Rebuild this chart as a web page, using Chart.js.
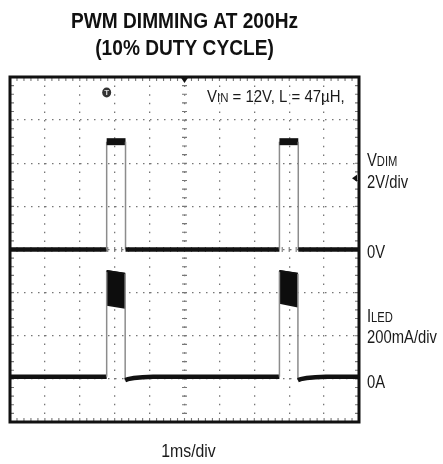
<!DOCTYPE html>
<html><head><meta charset="utf-8">
<script src="https://cdn.jsdelivr.net/npm/chart.js@4.4.0/dist/chart.umd.min.js"></script>
<style>html,body{margin:0;padding:0;background:#fff}#wrap{width:443px;height:464px;position:relative}</style>
</head><body><div id="wrap"><canvas id="c" width="443" height="464"></canvas></div>
<script>
// ---- text ----
const titleLines = ['PWM DIMMING AT 200Hz', '(10% DUTY CYCLE)'];
const xAxisLabel = '1ms/div';
// ---- VDIM channel: time (ms), volts ----
const vdimTime  = [0, 2.77, 2.77, 3.31, 3.31, 7.72, 7.72, 8.26, 8.26, 10];
const vdimVolts = [0, 0,    5.0,  5.0,  0,    0,    5.0,  5.0,  0,    0];
// ---- ILED channel: time (ms), mA ----
const iledTime = [0, 2.77, 2.77, 3.30, 3.30, 3.38, 3.55, 3.80, 4.10, 7.72, 7.72, 8.25, 8.25, 8.33, 8.50, 8.75, 9.05, 10];
const iledMilliamps = [0, 0, 490, 478, -16, -11, -6, -2, 0, 0, 490, 478, -16, -11, -6, -2, 0, 0];
// ---- ILED ripple envelope during the on-time ----
const ripple1Time = [2.77, 3.30];
const ripple1Upper = [492, 478];
const ripple1Lower = [334, 320];
const ripple2Time = [7.72, 8.25];
const ripple2Upper = [492, 478];
const ripple2Lower = [343, 325];

const F = '"Liberation Sans", Arial, sans-serif';
const pts = (xs, ys) => xs.map((x, i) => ({x, y: ys[i]}));
const isEdge = c => c.p0.parsed.x === c.p1.parsed.x;

// draws condensed text (horizontal scale k); parts: [text, isSubscript]
function condText(ctx, x, y, parts, size, k, align, weight) {
  weight = weight || 'normal';
  const fontFor = sub => weight + ' ' + (sub ? Math.round(size * 0.74) : size) + 'px ' + F;
  let w = 0;
  for (const [t, sub] of parts) { ctx.font = fontFor(sub); w += ctx.measureText(t).width; }
  ctx.save();
  ctx.translate(align === 'center' ? x - w * k / 2 : x, y);
  ctx.scale(k, 1);
  ctx.textAlign = 'left'; ctx.textBaseline = 'alphabetic';
  let cx = 0;
  for (const [t, sub] of parts) {
    ctx.font = fontFor(sub);
    ctx.fillText(t, cx, 0);
    cx += ctx.measureText(t).width;
  }
  ctx.restore();
}

const scopeDecor = {
  id: 'scopeDecor',
  beforeDatasetsDraw(chart) {
    const {ctx, chartArea: a, scales} = chart;
    const xs = scales.x, ys = scales.y;
    const cx = xs.getPixelForValue(5), cy = ys.getPixelForValue(0);
    ctx.save();
    ctx.strokeStyle = '#777'; ctx.lineWidth = 1.1;
    ctx.beginPath();
    for (let i = 1; i < 50; i++) {
      const px = xs.getPixelForValue(i * 0.2);
      ctx.moveTo(px, a.top); ctx.lineTo(px, a.top + 4);
      ctx.moveTo(px, a.bottom); ctx.lineTo(px, a.bottom - 4);
      ctx.moveTo(px, cy - 2.5); ctx.lineTo(px, cy + 2.5);
    }
    for (let i = 1; i < 40; i++) {
      const py = ys.getPixelForValue(-8 + i * 0.4);
      ctx.moveTo(a.left, py); ctx.lineTo(a.left + 4, py);
      ctx.moveTo(a.right, py); ctx.lineTo(a.right - 4, py);
      ctx.moveTo(cx - 2.5, py); ctx.lineTo(cx + 2.5, py);
    }
    ctx.stroke();
    ctx.restore();
  },
  afterDatasetsDraw(chart) {
    const {ctx, chartArea: a, scales} = chart;
    const xs = scales.x, ys = scales.y, yi = scales.yI;
    ctx.save();
    // frame
    ctx.strokeStyle = '#111'; ctx.lineWidth = 3;
    ctx.strokeRect(a.left, a.top, a.width, a.height);
    // trigger position marker (top centre)
    const cx = xs.getPixelForValue(5);
    ctx.fillStyle = '#111';
    ctx.beginPath(); ctx.moveTo(cx - 4, a.top); ctx.lineTo(cx + 4, a.top); ctx.lineTo(cx, a.top + 6); ctx.closePath(); ctx.fill();
    // trigger level marker (right edge)
    const ty = ys.getPixelForValue(3.3);
    ctx.beginPath(); ctx.moveTo(a.right - 2, ty - 3.5); ctx.lineTo(a.right - 2, ty + 3.5); ctx.lineTo(a.right - 7, ty); ctx.closePath(); ctx.fill();
    // T icon at trigger time
    const tx = xs.getPixelForValue(vdimTime[1]);
    const tyy = a.top + 15.5;
    ctx.fillStyle = '#333';
    ctx.beginPath(); ctx.ellipse(tx, tyy, 4.5, 5, 0, 0, Math.PI * 2); ctx.fill();
    ctx.fillStyle = '#ddd'; ctx.font = 'bold 8px ' + F; ctx.textAlign = 'center'; ctx.textBaseline = 'middle';
    ctx.fillText('T', tx, tyy + 0.5);
    // title
    ctx.fillStyle = '#111';
    const mid = (a.left + a.right) / 2;
    condText(ctx, mid, 28, [[titleLines[0], false]], 22.5, 0.85, 'center', 'bold');
    condText(ctx, mid, 55, [[titleLines[1], false]], 22.5, 0.85, 'center', 'bold');
    // axis label
    ctx.fillStyle = '#1a1a1a';
    condText(ctx, mid + 4, a.bottom + 35, [[xAxisLabel, false]], 18, 0.88, 'center');
    // channel labels
    const lx = a.right + 8;
    const v0 = ys.getPixelForValue(0), i0 = yi.getPixelForValue(0);
    const K = 0.8, S = 18.5;
    condText(ctx, lx, v0 - 84, [['V', false], ['DIM', true]], S, K);
    condText(ctx, lx, v0 - 62, [['2V/div', false]], S, K);
    condText(ctx, lx, v0 + 8, [['0V', false]], S, K);
    condText(ctx, lx, i0 - 55, [['I', false], ['LED', true]], S, K);
    condText(ctx, lx, i0 - 34, [['200mA/div', false]], S, K);
    condText(ctx, lx, i0 + 11, [['0A', false]], S, K);
    condText(ctx, a.left + 197, a.top + 25, [['V', false], ['IN', true], [' = 12V, L = 47\u00b5H,', false]], 17, 0.88);
    ctx.restore();
  }
};

const traceSeg = (flatW, topW) => ({
  borderColor: c => isEdge(c) ? '#8c8c8c' : '#111',
  borderWidth: c => isEdge(c) ? 1.5 : (c.p0.parsed.y > 1 && c.p1.parsed.y > 1 ? topW : flatW)
});

new Chart(document.getElementById('c'), {
  type: 'line',
  data: {
    datasets: [
      {label: 'VDIM', data: pts(vdimTime, vdimVolts), yAxisID: 'y', borderColor: '#111', borderWidth: 4.5, pointRadius: 0, fill: false, segment: traceSeg(4.5, 7)},
      {label: 'ILED', data: pts(iledTime, iledMilliamps), yAxisID: 'yI', borderColor: '#111', borderWidth: 4.5, pointRadius: 0, fill: false, segment: traceSeg(4.5, 2)},
      {label: 'ILED ripple 1 top', data: pts(ripple1Time, ripple1Upper), yAxisID: 'yI', borderColor: '#111', borderWidth: 1.5, pointRadius: 0, fill: false},
      {label: 'ILED ripple 1 bottom', data: pts(ripple1Time, ripple1Lower), yAxisID: 'yI', borderColor: '#111', borderWidth: 2, pointRadius: 0, fill: '-1', backgroundColor: '#0d0d0d'},
      {label: 'ILED ripple 2 top', data: pts(ripple2Time, ripple2Upper), yAxisID: 'yI', borderColor: '#111', borderWidth: 1.5, pointRadius: 0, fill: false},
      {label: 'ILED ripple 2 bottom', data: pts(ripple2Time, ripple2Lower), yAxisID: 'yI', borderColor: '#111', borderWidth: 2, pointRadius: 0, fill: '-1', backgroundColor: '#0d0d0d'}
    ]
  },
  options: {
    responsive: false,
    animation: false,
    events: [],
    layout: {padding: {left: 10, right: 84, top: 77, bottom: 42}},
    plugins: {
      legend: {display: false},
      tooltip: {enabled: false},
      title: {display: false}
    },
    scales: {
      x: {type: 'linear', min: 0, max: 10,
        ticks: {display: false, stepSize: 1},
        grid: {color: '#767676', lineWidth: 1.3, drawTicks: false},
        border: {display: false, dash: [1.5, 7.1]}},
      y: {position: 'left', min: -8, max: 8,
        ticks: {display: false, stepSize: 2},
        grid: {color: '#767676', lineWidth: 1.3, drawTicks: false},
        border: {display: false, dash: [1.5, 5.5]}},
      yI: {position: 'right', min: -210, max: 1390, display: false}
    }
  },
  plugins: [scopeDecor]
});
</script></body></html>
